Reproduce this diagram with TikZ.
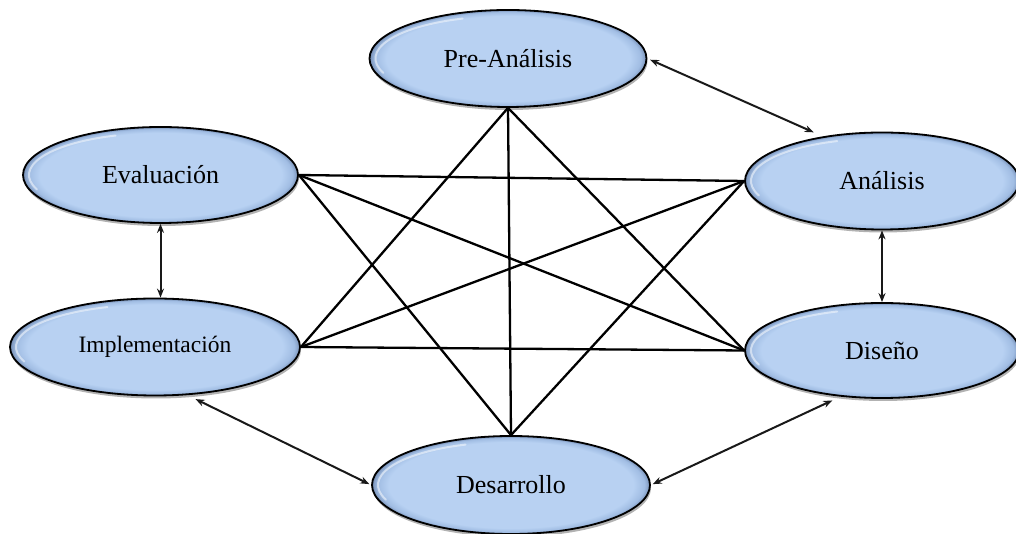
\documentclass[tikz,border=0pt]{standalone}
\usepackage{fontspec}
\setmainfont{Liberation Serif}
\usetikzlibrary{shapes.geometric,arrows.meta,shadows}
\pgfdeclareradialshading{ellbev}{\pgfpoint{0bp}{0bp}}{rgb(0bp)=(0.72,0.82,0.95); rgb(22bp)=(0.72,0.82,0.95); rgb(24bp)=(0.63,0.74,0.89); rgb(24.8bp)=(0.50,0.60,0.75); rgb(25bp)=(0.40,0.48,0.62); rgb(50bp)=(0.40,0.48,0.62)}
\tikzset{
  phase/.style n args={3}{ellipse, draw=black, line width=1.8pt, shading=ellbev,
    inner sep=0pt, minimum width=#1, minimum height=#2,
    font=\fontsize{#3}{#3}\selectfont,
    drop shadow={shadow xshift=1pt, shadow yshift=-3pt, opacity=0.3, fill=black},
    path picture={\draw[white, opacity=0.5, line width=2pt, line cap=round]
      (path picture bounding box.center) ++(110:{#1/2-6pt} and {#2/2-6pt})
      arc[start angle=110, end angle=200, x radius={#1/2-6pt}, y radius={#2/2-6pt}];}},
  link/.style={line width=2.3pt, black},
  dbl/.style={line width=2pt, black!90, {Stealth[length=9pt,width=7pt]}-{Stealth[length=9pt,width=7pt]}}
}
\begin{document}
\begin{tikzpicture}[x=1pt,y=1pt]
\useasboundingbox (0,0) rectangle (1016,534);
% phases
\node[phase={277pt}{97pt}{26}] (pre) at (508,475.5) {Pre-Análisis};
\node[phase={275pt}{96pt}{26}] (eva) at (160.5,359) {Evaluación};
\node[phase={274pt}{97pt}{26}] (ana) at (882,353) {Análisis};
\node[phase={290pt}{97pt}{23.5}] (imp) at (155,187) {Implementación};
\node[phase={274pt}{95pt}{26}] (dis) at (882,183.5) {Diseño};
\node[phase={278pt}{98pt}{26}] (des) at (511,49) {Desarrollo};
% star links
\draw[link] (pre.south) -- (des.north);
\draw[link] (pre.south) -- (imp.east);
\draw[link] (pre.south) -- (dis.west);
\draw[link] (des.north) -- (eva.east);
\draw[link] (des.north) -- (ana.west);
\draw[link] (eva.east) -- (ana.west);
\draw[link] (eva.east) -- (dis.west);
\draw[link] (imp.east) -- (ana.west);
\draw[link] (imp.east) -- (dis.west);
% double arrows
\draw[dbl, shorten <=3pt, shorten >=10pt] (pre.east) -- (ana.143);
\draw[dbl] (eva.south) -- (eva.south |- imp.north);
\draw[dbl] (ana.south) -- (dis.north);
\draw[dbl, shorten <=9pt, shorten >=2pt] (imp.-56.5) -- (des.west);
\draw[dbl, shorten <=2pt, shorten >=9pt] (des.east) -- (dis.228);
\end{tikzpicture}
\end{document}
